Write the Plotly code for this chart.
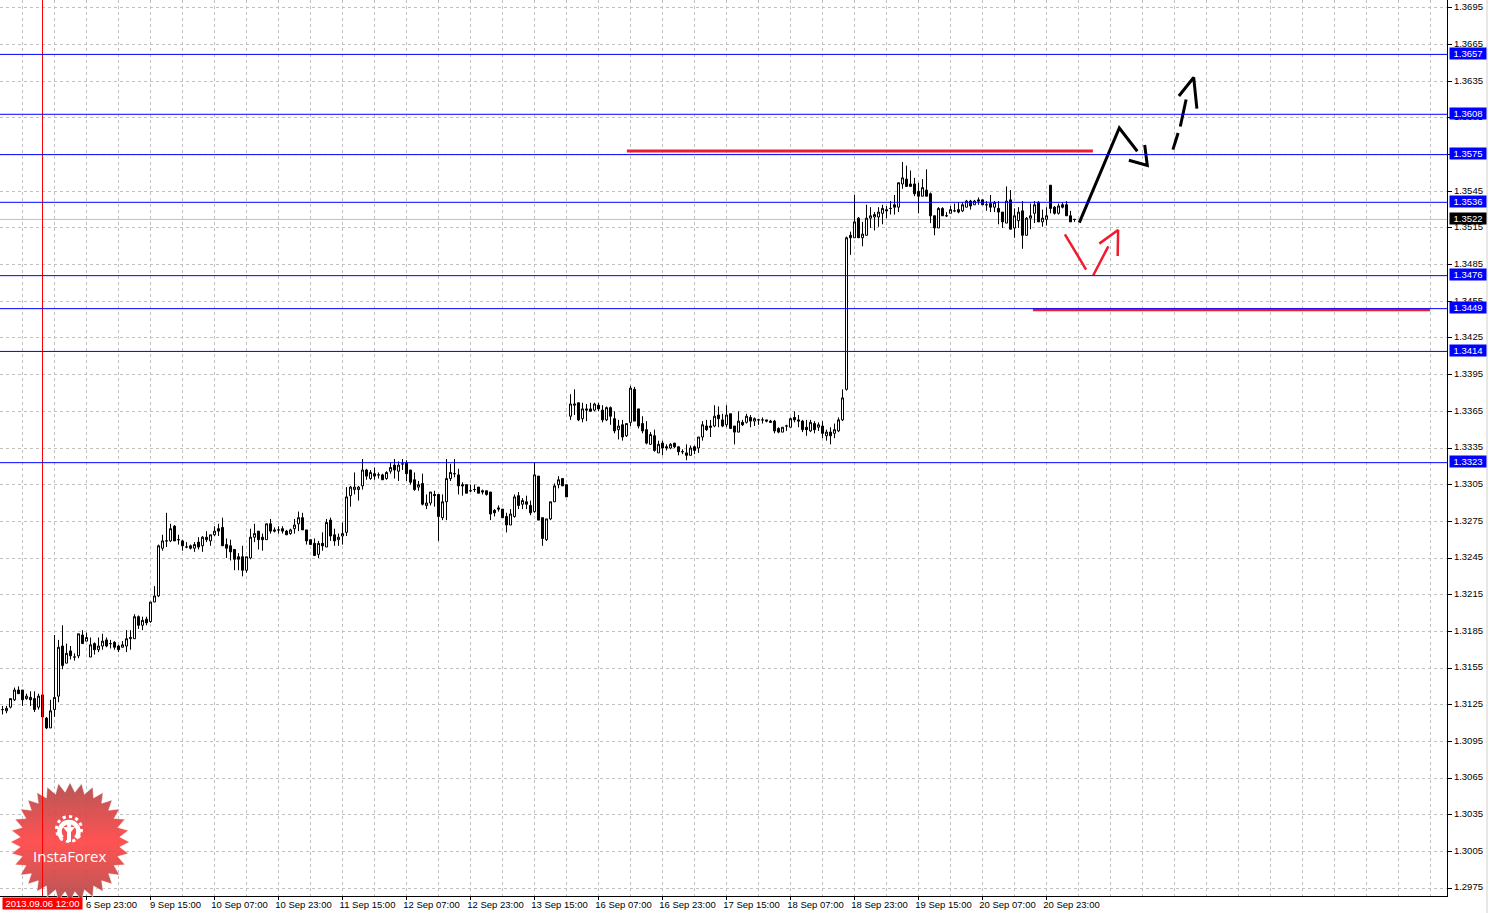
import base64
import math

import plotly.graph_objects as go

opens = [
    1.3121, 1.3120, 1.3123, 1.3129, 1.3137, 1.3137, 1.3130, 1.3131, 1.3130, 1.3123,
    1.3133, 1.3114, 1.3106, 1.3121, 1.3132, 1.3173, 1.3159, 1.3169, 1.3164, 1.3165,
    1.3182, 1.3177, 1.3164, 1.3175, 1.3170, 1.3173, 1.3178, 1.3175, 1.3176, 1.3173,
    1.3172, 1.3173, 1.3179, 1.3179, 1.3197, 1.3190, 1.3195, 1.3193, 1.3209, 1.3214,
    1.3253, 1.3259, 1.3259, 1.3271, 1.3260, 1.3259, 1.3254, 1.3255, 1.3253, 1.3258,
    1.3255, 1.3262, 1.3259, 1.3264, 1.3269, 1.3270, 1.3256, 1.3255, 1.3252, 1.3246,
    1.3246, 1.3235, 1.3245, 1.3262, 1.3267, 1.3262, 1.3260, 1.3273, 1.3268, 1.3268,
    1.3269, 1.3267, 1.3265, 1.3269, 1.3273, 1.3278, 1.3268, 1.3260, 1.3257, 1.3248,
    1.3257, 1.3254, 1.3276, 1.3264, 1.3260, 1.3263, 1.3266, 1.3296, 1.3301, 1.3301,
    1.3304, 1.3317, 1.3310, 1.3314, 1.3313, 1.3313, 1.3310, 1.3316, 1.3321, 1.3316,
    1.3322, 1.3323, 1.3317, 1.3309, 1.3303, 1.3306, 1.3288, 1.3290, 1.3297, 1.3297,
    1.3278, 1.3291, 1.3310, 1.3314, 1.3313, 1.3305, 1.3305, 1.3300, 1.3301, 1.3303,
    1.3300, 1.3300, 1.3299, 1.3284, 1.3286, 1.3285, 1.3279, 1.3272, 1.3279, 1.3296,
    1.3289, 1.3291, 1.3288, 1.3283, 1.3312, 1.3278, 1.3260, 1.3277, 1.3291, 1.3305,
    1.3310, 1.3305, 1.3361, 1.3370, 1.3372, 1.3359, 1.3367, 1.3367, 1.3366, 1.3370,
    1.3366, 1.3358, 1.3368, 1.3359, 1.3350, 1.3354, 1.3345, 1.3356, 1.3383, 1.3367,
    1.3355, 1.3350, 1.3338, 1.3345, 1.3331, 1.3339, 1.3336, 1.3335, 1.3339, 1.3336,
    1.3332, 1.3331, 1.3329, 1.3336, 1.3335, 1.3344, 1.3353, 1.3353, 1.3353, 1.3362,
    1.3358, 1.3354, 1.3363, 1.3353, 1.3348, 1.3356, 1.3356, 1.3360, 1.3357, 1.3358,
    1.3358, 1.3358, 1.3357, 1.3357, 1.3351, 1.3348, 1.3353, 1.3352, 1.3360, 1.3358,
    1.3357, 1.3352, 1.3349, 1.3355, 1.3352, 1.3353, 1.3345, 1.3348, 1.3347, 1.3349,
    1.3358, 1.3383, 1.3509, 1.3507, 1.3523, 1.3507, 1.3509, 1.3523, 1.3524, 1.3524,
    1.3527, 1.3530, 1.3531, 1.3534, 1.3532, 1.3551, 1.3555, 1.3551, 1.3551, 1.3545,
    1.3541, 1.3546, 1.3543, 1.3525, 1.3515, 1.3531, 1.3525, 1.3527, 1.3529, 1.3530,
    1.3529, 1.3532, 1.3537, 1.3534, 1.3538, 1.3538, 1.3534, 1.3535, 1.3532, 1.3531,
    1.3528, 1.3519, 1.3538, 1.3515, 1.3521, 1.3529, 1.3509, 1.3523, 1.3527, 1.3536,
    1.3520, 1.3522, 1.3550, 1.3532, 1.3527, 1.3534, 1.3534, 1.3525, 1.3522,
]
highs = [
    1.3124, 1.3124, 1.3130, 1.3139, 1.3140, 1.3137, 1.3134, 1.3136, 1.3136, 1.3134,
    1.3134, 1.3115, 1.3129, 1.3182, 1.3178, 1.3190, 1.3175, 1.3173, 1.3167, 1.3183,
    1.3186, 1.3184, 1.3180, 1.3176, 1.3180, 1.3183, 1.3180, 1.3178, 1.3177, 1.3174,
    1.3177, 1.3186, 1.3186, 1.3199, 1.3198, 1.3197, 1.3197, 1.3209, 1.3222, 1.3256,
    1.3264, 1.3282, 1.3273, 1.3272, 1.3264, 1.3260, 1.3258, 1.3256, 1.3258, 1.3262,
    1.3263, 1.3267, 1.3264, 1.3271, 1.3273, 1.3278, 1.3261, 1.3260, 1.3252, 1.3249,
    1.3255, 1.3246, 1.3269, 1.3273, 1.3267, 1.3265, 1.3273, 1.3277, 1.3270, 1.3271,
    1.3271, 1.3268, 1.3269, 1.3277, 1.3283, 1.3282, 1.3268, 1.3260, 1.3261, 1.3259,
    1.3266, 1.3277, 1.3278, 1.3269, 1.3265, 1.3274, 1.3303, 1.3304, 1.3315, 1.3304,
    1.3326, 1.3318, 1.3317, 1.3319, 1.3315, 1.3314, 1.3316, 1.3323, 1.3326, 1.3324,
    1.3326, 1.3325, 1.3317, 1.3315, 1.3308, 1.3314, 1.3297, 1.3299, 1.3300, 1.3297,
    1.3297, 1.3326, 1.3322, 1.3326, 1.3318, 1.3307, 1.3305, 1.3305, 1.3305, 1.3303,
    1.3301, 1.3300, 1.3299, 1.3285, 1.3288, 1.3285, 1.3282, 1.3285, 1.3297, 1.3299,
    1.3294, 1.3296, 1.3292, 1.3323, 1.3312, 1.3278, 1.3277, 1.3291, 1.3306, 1.3312,
    1.3310, 1.3305, 1.3379, 1.3383, 1.3372, 1.3372, 1.3371, 1.3372, 1.3372, 1.3372,
    1.3370, 1.3369, 1.3369, 1.3365, 1.3358, 1.3358, 1.3355, 1.3386, 1.3385, 1.3367,
    1.3361, 1.3357, 1.3348, 1.3350, 1.3341, 1.3341, 1.3338, 1.3339, 1.3339, 1.3336,
    1.3334, 1.3338, 1.3337, 1.3337, 1.3344, 1.3357, 1.3358, 1.3358, 1.3370, 1.3369,
    1.3363, 1.3370, 1.3363, 1.3353, 1.3365, 1.3358, 1.3363, 1.3362, 1.3360, 1.3359,
    1.3360, 1.3358, 1.3358, 1.3358, 1.3352, 1.3352, 1.3354, 1.3360, 1.3365, 1.3362,
    1.3358, 1.3358, 1.3358, 1.3357, 1.3356, 1.3357, 1.3350, 1.3352, 1.3355, 1.3360,
    1.3383, 1.3508, 1.3512, 1.3542, 1.3524, 1.3520, 1.3534, 1.3532, 1.3528, 1.3532,
    1.3534, 1.3533, 1.3537, 1.3542, 1.3552, 1.3569, 1.3566, 1.3562, 1.3556, 1.3552,
    1.3555, 1.3563, 1.3544, 1.3525, 1.3532, 1.3532, 1.3528, 1.3533, 1.3535, 1.3536,
    1.3536, 1.3538, 1.3538, 1.3538, 1.3540, 1.3538, 1.3537, 1.3542, 1.3537, 1.3537,
    1.3528, 1.3549, 1.3546, 1.3531, 1.3532, 1.3537, 1.3524, 1.3535, 1.3537, 1.3537,
    1.3530, 1.3532, 1.3550, 1.3533, 1.3535, 1.3536, 1.3537, 1.3529, 1.3522,
]
lows = [
    1.3117, 1.3118, 1.3122, 1.3128, 1.3134, 1.3124, 1.3129, 1.3124, 1.3119, 1.3121,
    1.3115, 1.3105, 1.3106, 1.3115, 1.3127, 1.3154, 1.3159, 1.3162, 1.3161, 1.3163,
    1.3175, 1.3177, 1.3164, 1.3166, 1.3168, 1.3170, 1.3172, 1.3171, 1.3170, 1.3168,
    1.3172, 1.3168, 1.3170, 1.3179, 1.3187, 1.3186, 1.3190, 1.3192, 1.3209, 1.3213,
    1.3251, 1.3254, 1.3258, 1.3259, 1.3256, 1.3251, 1.3253, 1.3252, 1.3250, 1.3252,
    1.3250, 1.3258, 1.3255, 1.3263, 1.3263, 1.3255, 1.3245, 1.3243, 1.3235, 1.3235,
    1.3230, 1.3233, 1.3244, 1.3258, 1.3252, 1.3251, 1.3260, 1.3265, 1.3266, 1.3265,
    1.3265, 1.3264, 1.3264, 1.3265, 1.3267, 1.3268, 1.3256, 1.3256, 1.3247, 1.3245,
    1.3251, 1.3254, 1.3259, 1.3255, 1.3255, 1.3256, 1.3263, 1.3287, 1.3297, 1.3292,
    1.3301, 1.3309, 1.3309, 1.3309, 1.3310, 1.3309, 1.3309, 1.3314, 1.3310, 1.3308,
    1.3317, 1.3308, 1.3305, 1.3300, 1.3300, 1.3288, 1.3285, 1.3288, 1.3287, 1.3259,
    1.3276, 1.3276, 1.3308, 1.3311, 1.3297, 1.3296, 1.3298, 1.3299, 1.3299, 1.3298,
    1.3297, 1.3296, 1.3276, 1.3279, 1.3283, 1.3278, 1.3266, 1.3272, 1.3278, 1.3285,
    1.3285, 1.3285, 1.3280, 1.3282, 1.3276, 1.3255, 1.3259, 1.3276, 1.3291, 1.3302,
    1.3304, 1.3295, 1.3358, 1.3362, 1.3357, 1.3356, 1.3357, 1.3365, 1.3365, 1.3365,
    1.3356, 1.3357, 1.3354, 1.3347, 1.3342, 1.3341, 1.3344, 1.3353, 1.3357, 1.3351,
    1.3347, 1.3338, 1.3338, 1.3332, 1.3331, 1.3329, 1.3333, 1.3334, 1.3335, 1.3329,
    1.3330, 1.3325, 1.3329, 1.3330, 1.3331, 1.3341, 1.3349, 1.3344, 1.3352, 1.3352,
    1.3352, 1.3352, 1.3351, 1.3338, 1.3348, 1.3353, 1.3355, 1.3352, 1.3353, 1.3354,
    1.3355, 1.3356, 1.3356, 1.3347, 1.3347, 1.3348, 1.3349, 1.3352, 1.3356, 1.3352,
    1.3348, 1.3345, 1.3348, 1.3347, 1.3349, 1.3343, 1.3341, 1.3338, 1.3343, 1.3348,
    1.3357, 1.3382, 1.3493, 1.3507, 1.3507, 1.3500, 1.3509, 1.3515, 1.3513, 1.3516,
    1.3518, 1.3523, 1.3526, 1.3526, 1.3528, 1.3547, 1.3549, 1.3549, 1.3541, 1.3527,
    1.3541, 1.3541, 1.3519, 1.3509, 1.3515, 1.3525, 1.3524, 1.3527, 1.3528, 1.3527,
    1.3528, 1.3532, 1.3530, 1.3534, 1.3534, 1.3534, 1.3529, 1.3528, 1.3528, 1.3518,
    1.3515, 1.3519, 1.3514, 1.3507, 1.3515, 1.3498, 1.3509, 1.3514, 1.3519, 1.3520,
    1.3516, 1.3517, 1.3527, 1.3526, 1.3526, 1.3531, 1.3525, 1.3520, 1.3520,
]
closes = [
    1.3121, 1.3122, 1.3130, 1.3137, 1.3134, 1.3129, 1.3132, 1.3129, 1.3121, 1.3132,
    1.3115, 1.3106, 1.3120, 1.3131, 1.3172, 1.3157, 1.3167, 1.3165, 1.3164, 1.3183,
    1.3175, 1.3180, 1.3174, 1.3170, 1.3173, 1.3177, 1.3173, 1.3175, 1.3172, 1.3170,
    1.3174, 1.3179, 1.3180, 1.3197, 1.3190, 1.3194, 1.3192, 1.3209, 1.3214, 1.3255,
    1.3259, 1.3259, 1.3269, 1.3259, 1.3260, 1.3255, 1.3254, 1.3253, 1.3256, 1.3254,
    1.3262, 1.3260, 1.3264, 1.3267, 1.3267, 1.3255, 1.3253, 1.3250, 1.3244, 1.3244,
    1.3235, 1.3246, 1.3262, 1.3265, 1.3260, 1.3260, 1.3273, 1.3267, 1.3267, 1.3268,
    1.3267, 1.3264, 1.3268, 1.3272, 1.3278, 1.3268, 1.3259, 1.3256, 1.3247, 1.3257,
    1.3255, 1.3274, 1.3263, 1.3259, 1.3262, 1.3265, 1.3295, 1.3303, 1.3303, 1.3303,
    1.3317, 1.3312, 1.3315, 1.3312, 1.3313, 1.3309, 1.3315, 1.3319, 1.3317, 1.3321,
    1.3322, 1.3314, 1.3307, 1.3301, 1.3305, 1.3289, 1.3290, 1.3299, 1.3296, 1.3279,
    1.3291, 1.3310, 1.3315, 1.3314, 1.3304, 1.3304, 1.3298, 1.3300, 1.3301, 1.3298,
    1.3299, 1.3297, 1.3281, 1.3282, 1.3285, 1.3278, 1.3272, 1.3281, 1.3295, 1.3288,
    1.3292, 1.3289, 1.3282, 1.3313, 1.3276, 1.3261, 1.3277, 1.3291, 1.3304, 1.3309,
    1.3304, 1.3295, 1.3371, 1.3371, 1.3358, 1.3367, 1.3366, 1.3365, 1.3371, 1.3367,
    1.3358, 1.3368, 1.3361, 1.3349, 1.3353, 1.3344, 1.3355, 1.3384, 1.3357, 1.3353,
    1.3349, 1.3339, 1.3346, 1.3333, 1.3338, 1.3335, 1.3335, 1.3338, 1.3336, 1.3332,
    1.3332, 1.3329, 1.3335, 1.3333, 1.3344, 1.3354, 1.3350, 1.3352, 1.3361, 1.3359,
    1.3353, 1.3362, 1.3351, 1.3348, 1.3357, 1.3354, 1.3361, 1.3357, 1.3359, 1.3358,
    1.3358, 1.3357, 1.3356, 1.3349, 1.3348, 1.3352, 1.3353, 1.3359, 1.3358, 1.3357,
    1.3350, 1.3350, 1.3356, 1.3350, 1.3354, 1.3347, 1.3348, 1.3345, 1.3350, 1.3358,
    1.3376, 1.3507, 1.3507, 1.3520, 1.3507, 1.3510, 1.3523, 1.3525, 1.3526, 1.3528,
    1.3531, 1.3529, 1.3531, 1.3532, 1.3552, 1.3556, 1.3549, 1.3549, 1.3543, 1.3541,
    1.3548, 1.3541, 1.3525, 1.3515, 1.3531, 1.3525, 1.3525, 1.3530, 1.3529, 1.3528,
    1.3534, 1.3537, 1.3533, 1.3537, 1.3537, 1.3534, 1.3534, 1.3532, 1.3536, 1.3528,
    1.3520, 1.3537, 1.3514, 1.3525, 1.3528, 1.3509, 1.3523, 1.3525, 1.3534, 1.3520,
    1.3523, 1.3525, 1.3531, 1.3527, 1.3533, 1.3532, 1.3525, 1.3520, 1.3522,
]

date_ticks = [21, 37, 53, 69, 85, 101, 117, 133, 149, 165, 181, 197, 213, 229, 245, 261]
date_labels = [
    "6 Sep 23:00", "9 Sep 15:00", "10 Sep 07:00", "10 Sep 23:00", "11 Sep 15:00", "12 Sep 07:00",
    "12 Sep 23:00", "13 Sep 15:00", "16 Sep 07:00", "16 Sep 23:00", "17 Sep 15:00", "18 Sep 07:00",
    "18 Sep 23:00", "19 Sep 15:00", "20 Sep 07:00", "20 Sep 23:00",
]
minor_grid_bars = [5, 13, 29, 45, 61, 77, 93, 109, 125, 141, 157, 173, 189, 205, 221, 237, 253, 269,
                   277, 285, 293, 301, 309, 317, 325, 333, 341, 349, 357]
price_ticks = [1.2975, 1.3005, 1.3035, 1.3065, 1.3095, 1.3125, 1.3155, 1.3185, 1.3215, 1.3245, 1.3275,
               1.3305, 1.3335, 1.3365, 1.3395, 1.3425, 1.3455, 1.3485, 1.3515, 1.3545, 1.3575, 1.3605,
               1.3635, 1.3665, 1.3695]

levels = [1.3657, 1.3608, 1.3575, 1.3536, 1.3476, 1.3449, 1.3414, 1.3323]
last_price = 1.3522
cursor_bar = 10
cursor_label = "2013.09.06 12:00"

# hand drawn marks on the chart, None breaks the stroke
black_x = [269.2, 279.2, 283.7, None, 281.6, 286.2, 285.55, None, 292.6, 293.9, None, 294.45, 295.9,
           None, 294.1, 297.8, 298.6]
black_y = [1.35194, 1.35968, 1.35778, None, 1.35704, 1.35661, 1.35829, None, 1.35791, 1.35927, None,
           1.3598, 1.36201, None, 1.3623, 1.36381, 1.36127]
red_x = [265.6, 270.9, None, 272.7, 276.45, None, 274.2, 278.9, 278.8]
red_y = [1.35098, 1.3481, None, 1.34763, 1.35, None, 1.35022, 1.35134, 1.34921]
target_x = [156.1, 272.6, None, 257.6, 356.9]
target_y = [1.3578, 1.3578, None, 1.3448, 1.3448]

FONT = "Liberation Sans"
PLOT_W = 1447
PLOT_H = 896


def logo_source():
    size = 120
    c = size / 2
    teeth = 32
    points = []
    for k in range(teeth * 2):
        r = 59.5 if k % 2 == 0 else 50
        a = math.pi * k / teeth
        points.append(f"{c + r * math.sin(a):.1f},{c - r * math.cos(a):.1f}")
    svg = (
        f'<svg xmlns="http://www.w3.org/2000/svg" width="{size}" height="{size}">'
        '<defs><linearGradient id="g" x1="0" y1="0" x2="0" y2="1">'
        '<stop offset="0" stop-color="#b04444"/><stop offset="0.5" stop-color="#ff4040"/>'
        '<stop offset="1" stop-color="#b04444"/></linearGradient></defs>'
        f'<polygon points="{" ".join(points)}" fill="url(#g)" fill-opacity="0.9" '
        'stroke="#ffffff" stroke-opacity="0.5" stroke-width="1"/>'
        '<g fill="none" stroke="#ffffff">'
        '<path d="M52 56 A 9.5 9.5 0 1 1 66 56" stroke-width="4.5"/>'
        '<circle cx="59" cy="47" r="12.5" stroke-width="3" stroke-dasharray="3.2 3.3"/>'
        '</g><g fill="#ffffff"><circle cx="59" cy="43" r="2.4"/>'
        '<path d="M53 45 L65 45 L61 50 L61 60 L57 60 L57 50 Z"/></g></svg>'
    )
    return "data:image/svg+xml;base64," + base64.b64encode(svg.encode()).decode()


fig = go.Figure()
fig.add_trace(go.Candlestick(
    x=list(range(len(opens))),
    open=opens,
    high=highs,
    low=lows,
    close=closes,
    increasing=dict(line=dict(color="#000000", width=1), fillcolor="#ffffff"),
    decreasing=dict(line=dict(color="#000000", width=1), fillcolor="#000000"),
    whiskerwidth=0,
    showlegend=False,
))
fig.add_trace(go.Scatter(x=target_x, y=target_y, mode="lines", showlegend=False,
                         line=dict(color="#f01c2e", width=3)))
fig.add_trace(go.Scatter(x=red_x, y=red_y, mode="lines", showlegend=False,
                         line=dict(color="#f01c2e", width=2.5)))
fig.add_trace(go.Scatter(x=black_x, y=black_y, mode="lines", showlegend=False,
                         line=dict(color="#000000", width=3)))

shapes = [
    dict(type="line", xref="paper", yref="y", x0=0, x1=1, y0=last_price, y1=last_price,
         line=dict(color="#c0c0c0", width=1), layer="below"),
    dict(type="line", xref="x", yref="paper", x0=cursor_bar, x1=cursor_bar, y0=0, y1=1,
         line=dict(color="#ff0000", width=1)),
    dict(type="line", xref="paper", yref="paper", x0=1487 / PLOT_W, x1=1487 / PLOT_W, y0=-17 / PLOT_H, y1=1,
         line=dict(color="#d4d0c8", width=1)),
]
for level in levels:
    shapes.append(dict(type="line", xref="paper", yref="y", x0=0, x1=1, y0=level, y1=level,
                       line=dict(color="#0000ff", width=1)))

annotations = []
for level in levels + [last_price]:
    annotations.append(dict(
        xref="paper", yref="y", x=1, y=level, xanchor="left", yanchor="middle", xshift=2, yshift=1,
        text=f"{level:.4f}", showarrow=False, width=35, height=10, borderpad=0.5,
        bgcolor="#000000" if level == last_price else "#0000ff",
        font=dict(family=FONT, size=9.5, color="#ffffff"),
    ))
annotations.append(dict(
    xref="x", yref="paper", x=cursor_bar, y=0, xanchor="center", yanchor="top", yshift=-1,
    text=cursor_label, showarrow=False, width=78, height=10, borderpad=0.5, bgcolor="#ff0000",
    font=dict(family=FONT, size=9.5, color="#ffffff"),
))
annotations.append(dict(
    xref="paper", yref="paper", x=70 / PLOT_W, y=(PLOT_H - 855.5) / PLOT_H, xanchor="center", yanchor="middle",
    text="InstaForex", showarrow=False, font=dict(family="Open Sans", size=15, color="#ffffff"),
))

grid = dict(showgrid=True, gridcolor="#c0c0c0", griddash="3px,3px", gridwidth=1)

fig.update_layout(
    width=1497,
    height=913,
    margin=dict(l=0, r=50, t=0, b=17),
    paper_bgcolor="#ffffff",
    plot_bgcolor="#ffffff",
    font=dict(family=FONT, size=9.5, color="#000000"),
    showlegend=False,
    hovermode=False,
    boxgap=0.5,
    boxgroupgap=0,
    shapes=shapes,
    annotations=annotations,
    images=[dict(source=logo_source(), xref="paper", yref="paper", x=10 / PLOT_W, y=(PLOT_H - 782) / PLOT_H,
                 sizex=120 / PLOT_W, sizey=120 / PLOT_H, xanchor="left", yanchor="top", sizing="stretch",
                 layer="above")],
    xaxis=dict(
        range=[-0.625, 361.125],
        rangeslider=dict(visible=False),
        tickmode="array",
        tickvals=date_ticks,
        ticktext=date_labels,
        ticks="outside",
        ticklen=3,
        tickcolor="#000000",
        ticklabelshift=25,
        ticklabelstandoff=-3,
        showline=True,
        linecolor="#000000",
        linewidth=1,
        zeroline=False,
        minor=dict(tickvals=minor_grid_bars, ticks="", **grid),
        **grid,
    ),
    yaxis=dict(
        range=[1.29685, 1.37015],
        side="right",
        tickmode="array",
        tickvals=price_ticks,
        tickformat=".4f",
        ticks="outside",
        ticklen=4,
        tickcolor="#000000",
        ticklabelshift=-1,
        showline=True,
        linecolor="#000000",
        linewidth=1,
        zeroline=False,
        **grid,
    ),
)

fig.write_html(
    "out.html",
    config={"displayModeBar": False},
    post_script="document.body.style.margin='0';document.body.style.overflow='hidden';",
)
